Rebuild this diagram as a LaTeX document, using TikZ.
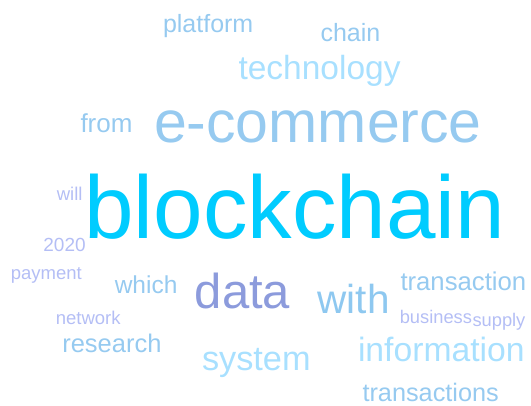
\documentclass[tikz,border=0pt]{standalone}
\usepackage{fontspec}
\setmainfont{Liberation Sans}
\definecolor{cBright}{RGB}{0,204,255}
\definecolor{cSky}{RGB}{150,202,240}
\definecolor{cPale}{RGB}{168,224,255}
\definecolor{cPeri}{RGB}{140,155,220}
\definecolor{cMid}{RGB}{142,200,240}
\definecolor{cLav}{RGB}{180,190,245}
\tikzset{
  word/.style n args={2}{anchor=base west, inner sep=0pt, outer sep=0pt,
    text=#2, font=\fontsize{#1}{#1}\selectfont},
}
\begin{document}
\begin{tikzpicture}[x=1pt,y=-1pt]
\useasboundingbox (0,0) rectangle (531,405);
\node[word={25}{cSky}] (platform) at (163,32) {platform};
\node[word={25}{cSky}] (chain) at (320.5,41) {chain};
\node[word={33.5}{cPale}] (technology) at (238.5,79) {technology};
\node[word={26}{cSky}] (from) at (80.5,132) {from};
\node[word={59}{cSky}] (ecommerce) at (154,142) {e-commerce};
\node[word={89}{cBright}] (blockchain) at (84.5,238) {blockchain};
\node[word={18.5}{cLav}] (will) at (56.8,200) {will};
\node[word={19}{cLav}] (y2020) at (43.4,251) {2020};
\node[word={18.5}{cLav}] (payment) at (10.8,279) {payment};
\node[word={24.5}{cSky}] (which) at (114.8,293) {which};
\node[word={49}{cPeri}] (data) at (194.8,308) {data};
\node[word={40.5}{cMid}] (with) at (317.6,313) {with};
\node[word={25.7}{cSky}] (transaction) at (400.5,290) {transaction};
\node[word={18.3}{cLav}] (business) at (399.8,323) {business};
\node[word={18.3}{cLav}] (supply) at (472.5,326) {supply};
\node[word={18.5}{cLav}] (network) at (55.8,324) {network};
\node[word={25.5}{cSky}] (research) at (62.3,352) {research};
\node[word={34.3}{cPale}] (system) at (202,370) {system};
\node[word={33.7}{cPale}] (information) at (358,361) {information};
\node[word={25.3}{cSky}] (transactions) at (362.5,401) {transactions};
\end{tikzpicture}
\end{document}
